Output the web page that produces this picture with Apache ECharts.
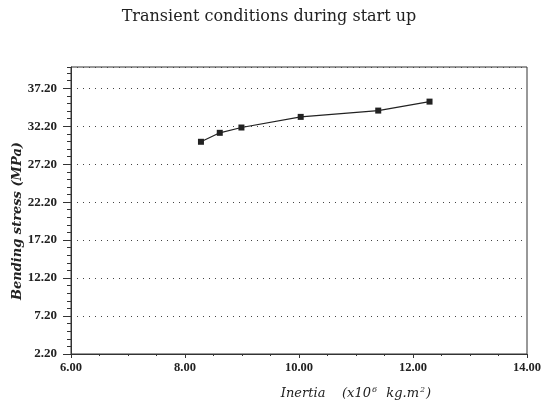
<!DOCTYPE html>
<html>
<head>
<meta charset="utf-8">
<script src="https://cdn.jsdelivr.net/npm/echarts@6/dist/echarts.min.js"></script>
<style>html,body{margin:0;padding:0;background:#fff;}#c{width:546px;height:403px;}</style>
</head>
<body>
<div id="c"></div>
<script>
const inertia = [8.28, 8.61, 8.99, 10.03, 11.39, 12.29];
const stress = [30.15, 31.33, 32.03, 33.43, 34.26, 35.44];
const yMin = 2.2, yMax = 40.0, yStep = 5;
const xMin = 6, xMax = 14, xStep = 2;

const serif = "'Liberation Serif', 'DejaVu Serif', serif";
const wide = "'DejaVu Serif', serif";
const chart = echarts.init(document.getElementById('c'));
chart.setOption({
  backgroundColor: '#fff',
  animation: false,
  title: {
    text: 'Transient conditions during start up',
    left: 264, top: 4, textAlign: 'center',
    textStyle: { fontFamily: wide, fontSize: 16, fontWeight: 'normal', color: '#222' }
  },
  grid: { left: 71, right: 19, top: 67, bottom: 49, show: true, borderColor: '#333', borderWidth: 1, backgroundColor: 'transparent' },
  xAxis: {
    type: 'value', min: xMin, max: xMax, interval: xStep,
    axisLine: { lineStyle: { color: '#333', width: 1 } },
    axisTick: { show: true, length: 4, inside: false, lineStyle: { color: '#333' } },
    minorTick: { show: true, splitNumber: 4, length: 2, lineStyle: { color: '#333' } },
    splitLine: { show: false },
    axisLabel: { formatter: v => v.toFixed(2), fontFamily: serif, fontSize: 12.5, fontWeight: 'bold', color: '#222', margin: 7 }
  },
  yAxis: [{
    type: 'value', min: yMin, max: yMax, interval: yStep,
    axisLine: { lineStyle: { color: '#333', width: 1 } },
    axisTick: { show: true, length: 8, lineStyle: { color: '#333' } },
    splitLine: { show: true, lineStyle: { type: [1, 5], color: '#444', width: 1 } },
    axisLabel: { showMaxLabel: false, formatter: v => v.toFixed(2), fontFamily: serif, fontSize: 13, fontWeight: 'bold', color: '#222', margin: 14 }
  }, {
    type: 'value', min: yMin, max: yMax, interval: 1, position: 'left', offset: 0,
    axisLine: { show: false },
    axisTick: { show: true, length: 4, lineStyle: { color: '#333' } },
    splitLine: { show: false },
    axisLabel: { show: false }
  }],
  graphic: [{
    type: 'text', x: 18, y: 221, rotation: Math.PI / 2,
    style: {
      text: 'Bending stress (MPa)', fontFamily: wide, fontStyle: 'italic', fontWeight: 'bold',
      fontSize: 13, fill: '#222', align: 'center', verticalAlign: 'middle'
    }
  }, {
    type: 'text', x: 356, y: 394,
    style: {
      text: '{it|Inertia}     {it|(x10}{sup|6}{it|  kg.m}{sup|2}{it|)}',
      align: 'center', verticalAlign: 'middle',
      rich: {
        it: { fontFamily: wide, fontStyle: 'italic', fontSize: 13, fill: '#222' },
        sup: { fontFamily: wide, fontStyle: 'italic', fontSize: 8, fill: '#222', verticalAlign: 'top', padding: [0, 1, 8, 1] }
      }
    }
  }],
  series: [{
    type: 'line', yAxisIndex: 0,
    data: inertia.map((x, i) => [x, stress[i]]),
    symbol: 'rect', symbolSize: 6,
    lineStyle: { color: '#222', width: 1.2 },
    itemStyle: { color: '#222' }
  }]
});
</script>
</body>
</html>
